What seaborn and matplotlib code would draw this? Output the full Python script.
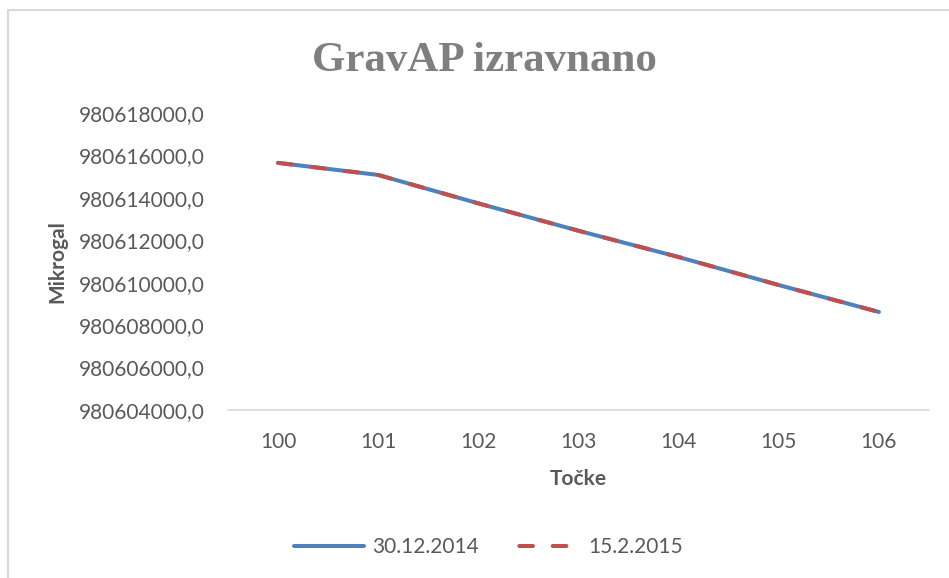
import pandas as pd
import numpy as np
import matplotlib.pyplot as plt
import seaborn as sns
from matplotlib.patches import Rectangle
from matplotlib.ticker import FuncFormatter

# data
tocke = ['100', '101', '102', '103', '104', '105', '106']
izmera_2014 = [980615650, 980615080, 980613740, 980612450, 980611210, 980609890, 980608620]
izmera_2015 = [980615650, 980615080, 980613740, 980612450, 980611210, 980609890, 980608620]
y_ticks = [980604000, 980606000, 980608000, 980610000, 980612000, 980614000, 980616000, 980618000]

df = pd.DataFrame({'Točke': tocke, '30.12.2014': izmera_2014, '15.2.2015': izmera_2015})

sns.set_style('white')
plt.rcParams['font.family'] = ['Lato', 'DejaVu Sans']

fig = plt.figure(figsize=(9.49, 5.78), dpi=100)
ax = fig.add_axes([228/949, 1-410/578, 701/949, 297/578])

sns.lineplot(x='Točke', y='30.12.2014', data=df, ax=ax, color='#4f81bd', linewidth=2.9,
             solid_capstyle='round', label='30.12.2014', sort=False)
sns.lineplot(x='Točke', y='15.2.2015', data=df, ax=ax, color='#c0504d', linewidth=2.9,
             dashes=(3.4, 4.9), dash_capstyle='round', label='15.2.2015', sort=False)

ax.set_xlim(-0.5, 6.5)
ax.set_ylim(980604000, 980618000)
ax.set_yticks(y_ticks)
ax.yaxis.set_major_formatter(FuncFormatter(lambda v, p: '%d,0' % v))

for s in ['top', 'right', 'left']:
    ax.spines[s].set_visible(False)
ax.spines['bottom'].set_color('#d9d9d9')
ax.spines['bottom'].set_linewidth(1.2)
ax.tick_params(axis='both', length=0, labelsize=15, labelcolor='#595959')
ax.tick_params(axis='y', pad=17)
ax.tick_params(axis='x', pad=16)

ax.set_ylabel('Mikrogal', fontsize=15, fontweight='bold', color='#595959')
ax.yaxis.set_label_coords(-0.229, 0.5)
ax.set_xlabel('Točke', fontsize=15, fontweight='bold', color='#595959')
ax.xaxis.set_label_coords(0.5, -0.197)

fig.text(484/949, 1-61/578, 'GravAP izravnano', fontsize=31, fontweight='bold',
         family='Liberation Serif', color='#7f7f7f', ha='center', va='center')

leg = ax.legend(loc='center', bbox_to_anchor=(488/949, 1-547/578), bbox_transform=fig.transFigure,
                ncol=2, frameon=False, fontsize=15, handlelength=3.4, handletextpad=0.35,
                columnspacing=1.5)
for t in leg.get_texts():
    t.set_color('#595959')
# two dashes in the legend key, like the original
leg.get_lines()[1].set_linestyle((6, (3.4, 4.9)))

# chart border (cropped at right and bottom)
fig.add_artist(Rectangle((8/949, -0.1), 2, 1-10/578+0.1, transform=fig.transFigure,
                         fill=False, ec='#d9d9d9', lw=1.5))

plt.savefig('out.png', dpi=100)
